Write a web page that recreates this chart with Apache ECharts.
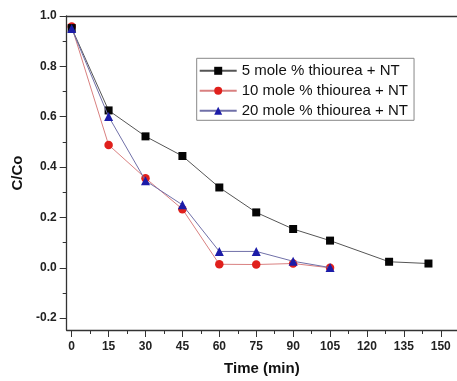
<!DOCTYPE html>
<html>
<head>
<meta charset="utf-8">
<script src="https://cdn.jsdelivr.net/npm/echarts@6/dist/echarts.min.js"></script>
<style>
  html, body { margin: 0; padding: 0; background: #fff; }
  #chart { width: 457px; height: 381px; }
</style>
</head>
<body>
<div id="chart"></div>
<script>
// data
var time5 = [0, 15, 30, 45, 60, 75, 90, 105, 129, 145];
var val5 = [0.952, 0.625, 0.522, 0.444, 0.319, 0.22, 0.154, 0.108, 0.024, 0.017];
var time10 = [0, 15, 30, 45, 60, 75, 90, 105];
var val10 = [0.958, 0.488, 0.356, 0.233, 0.014, 0.013, 0.017, 0.0];
var time20 = [0, 15, 30, 45, 60, 75, 90, 105];
var val20 = [0.95, 0.601, 0.346, 0.25, 0.065, 0.065, 0.026, 0.001];
var names = ["5 mole % thiourea + NT", "10 mole % thiourea + NT", "20 mole % thiourea + NT"];
var xTicks = [0, 15, 30, 45, 60, 75, 90, 105, 120, 135, 150];
var xMinor = [7.5, 22.5, 37.5, 52.5, 67.5, 82.5, 97.5, 112.5, 127.5, 142.5];
var yTicks = [-0.2, 0, 0.2, 0.4, 0.6, 0.8, 1.0];
var yMinor = [-0.1, 0.1, 0.3, 0.5, 0.7, 0.9];

function pairs(xs, ys) {
  return xs.map(function (x, i) { return [x, ys[i]]; });
}

var chart = echarts.init(document.getElementById("chart"));
var font = "Liberation Sans, Arial, sans-serif";
var axisCol = "#333";
var xBase = { type: "value", min: -2.03, max: 156.6, gridIndex: 0 };
var yBase = { type: "value", min: -0.247, max: 1.0, gridIndex: 0 };

var option = {
  animation: false,
  grid: { left: 66.7, top: 16, right: 0, bottom: 47 },
  legend: {
    orient: "vertical",
    left: 196.7,
    top: 58.3,
    padding: [5, 6, 2, 2],
    itemWidth: 37,
    itemHeight: 10,
    itemGap: 5,
    borderColor: "#888",
    borderWidth: 1,
    textStyle: { fontFamily: font, fontSize: 15, color: "#111", lineHeight: 13.5 },
    data: names
  },
  xAxis: [
    Object.assign({}, xBase, {
      position: "bottom",
      name: "Time (min)",
      nameLocation: "middle",
      nameGap: 31,
      nameTextStyle: { fontFamily: font, fontSize: 15, fontWeight: "bold", color: "#111" },
      axisLine: { show: true, onZero: false, lineStyle: { color: axisCol, width: 1.3 } },
      axisTick: { show: true, inside: false, length: 7, customValues: xTicks, lineStyle: { color: axisCol } },
      axisLabel: { customValues: xTicks, margin: 11, fontFamily: font, fontSize: 12, fontWeight: "bold", color: "#222" },
      splitLine: { show: false }
    }),
    Object.assign({}, xBase, {
      position: "bottom",
      axisLine: { show: false, onZero: false },
      axisTick: { show: true, inside: false, length: 4, customValues: xMinor, lineStyle: { color: axisCol } },
      axisLabel: { show: false, customValues: xMinor },
      splitLine: { show: false }
    }),
    Object.assign({}, xBase, {
      position: "top",
      axisLine: { show: true, onZero: false, lineStyle: { color: axisCol, width: 1.3 } },
      axisTick: { show: false },
      axisLabel: { show: false },
      splitLine: { show: false }
    })
  ],
  yAxis: [
    Object.assign({}, yBase, {
      position: "left",
      name: "C/Co",
      nameLocation: "middle",
      nameGap: 38,
      nameTextStyle: { fontFamily: font, fontSize: 15, fontWeight: "bold", color: "#111" },
      axisLine: { show: true, onZero: false, lineStyle: { color: axisCol, width: 1.3 } },
      axisTick: { show: true, inside: false, length: 7, customValues: yTicks, lineStyle: { color: axisCol } },
      axisLabel: {
        customValues: yTicks, margin: 10, fontFamily: font, fontSize: 12, fontWeight: "bold", color: "#222",
        formatter: function (v) { return v.toFixed(1); }
      },
      splitLine: { show: false }
    }),
    Object.assign({}, yBase, {
      position: "left",
      axisLine: { show: false, onZero: false },
      axisTick: { show: true, inside: false, length: 4, customValues: yMinor, lineStyle: { color: axisCol } },
      axisLabel: { show: false, customValues: yMinor },
      splitLine: { show: false }
    })
  ],
  series: [
    {
      name: names[0],
      type: "line",
      data: pairs(time5, val5),
      symbol: "rect",
      symbolSize: 8,
      itemStyle: { color: "#050505" },
      lineStyle: { color: "#555", width: 1 },
      z: 3
    },
    {
      name: names[1],
      type: "line",
      data: pairs(time10, val10),
      symbol: "circle",
      symbolSize: 8.5,
      itemStyle: { color: "#e0201c" },
      lineStyle: { color: "#d98080", width: 1 },
      z: 2
    },
    {
      name: names[2],
      type: "line",
      data: pairs(time20, val20),
      symbol: "triangle",
      symbolSize: 9,
      itemStyle: { color: "#1c1ca8" },
      lineStyle: { color: "#7070a8", width: 1 },
      z: 4
    }
  ]
};
chart.setOption(option);
</script>
</body>
</html>
